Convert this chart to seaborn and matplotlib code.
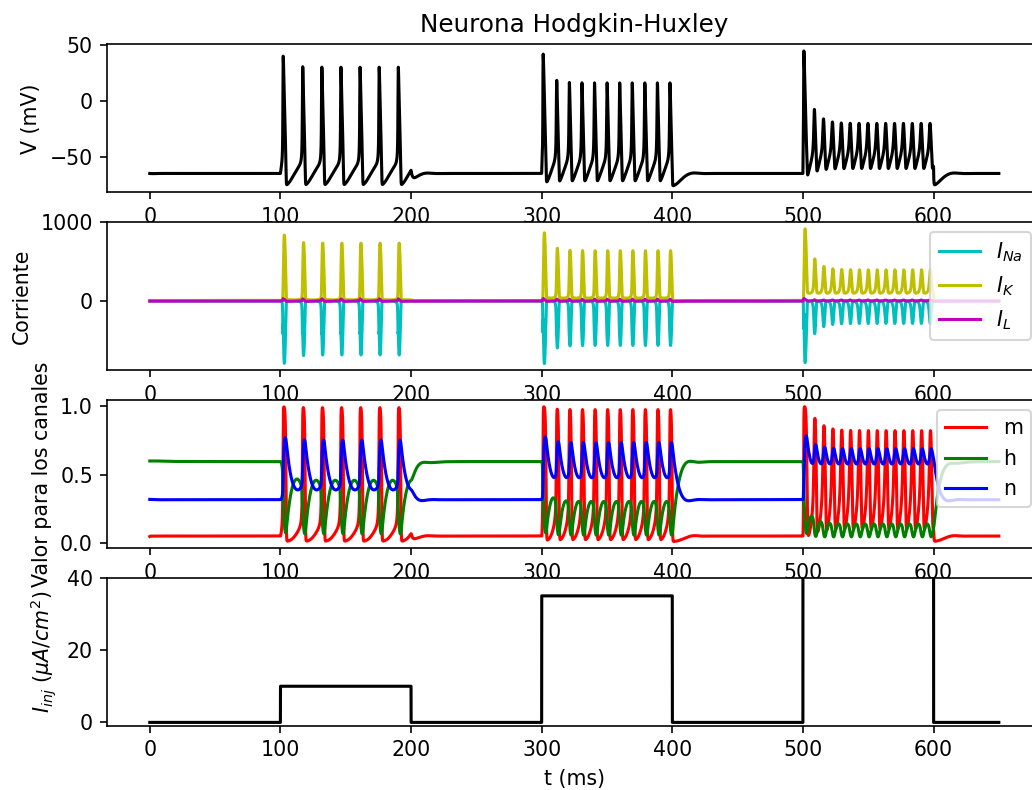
import numpy as np
import matplotlib
matplotlib.use('Agg')
import matplotlib.pyplot as plt
import seaborn as sns

# estimulo
stim_on = [100, 300, 500]
stim_off = [200, 400, 600]
stim_amp = [10, 35, 100]
t_end = 650.0
dt = 0.01

# parametros HH clasicos
C_m = 1.0
g_Na, g_K, g_L = 120.0, 36.0, 0.3
E_Na, E_K, E_L = 50.0, -77.0, -54.387
V0, m0, h0, n0 = -65.0, 0.05, 0.6, 0.32


def I_inj(t):
    tot = 0.0
    for a, b, amp in zip(stim_on, stim_off, stim_amp):
        if a <= t < b:
            tot += amp
    return tot


def alpha_m(V): return 0.1 * (V + 40.0) / (1.0 - np.exp(-(V + 40.0) / 10.0))
def beta_m(V): return 4.0 * np.exp(-(V + 65.0) / 18.0)
def alpha_h(V): return 0.07 * np.exp(-(V + 65.0) / 20.0)
def beta_h(V): return 1.0 / (1.0 + np.exp(-(V + 35.0) / 10.0))
def alpha_n(V): return 0.01 * (V + 55.0) / (1.0 - np.exp(-(V + 55.0) / 10.0))
def beta_n(V): return 0.125 * np.exp(-(V + 65.0) / 80.0)


def deriv(X, t):
    V, m, h, n = X
    ina = g_Na * m**3 * h * (V - E_Na)
    ik = g_K * n**4 * (V - E_K)
    il = g_L * (V - E_L)
    dV = (I_inj(t) - ina - ik - il) / C_m
    dm = alpha_m(V) * (1 - m) - beta_m(V) * m
    dh = alpha_h(V) * (1 - h) - beta_h(V) * h
    dn = alpha_n(V) * (1 - n) - beta_n(V) * n
    return np.array([dV, dm, dh, dn])


t = np.arange(0.0, t_end, dt)
X = np.zeros((len(t), 4))
X[0] = [V0, m0, h0, n0]
for i in range(len(t) - 1):
    x = X[i]
    ti = t[i]
    k1 = deriv(x, ti)
    k2 = deriv(x + 0.5 * dt * k1, ti + 0.5 * dt)
    k3 = deriv(x + 0.5 * dt * k2, ti + 0.5 * dt)
    k4 = deriv(x + dt * k3, ti + dt)
    X[i + 1] = x + dt / 6.0 * (k1 + 2 * k2 + 2 * k3 + k4)

V, m, h, n = X[:, 0], X[:, 1], X[:, 2], X[:, 3]
ina = g_Na * m**3 * h * (V - E_Na)
ik = g_K * n**4 * (V - E_K)
il = g_L * (V - E_L)
iinj = np.array([I_inj(ti) for ti in t])

DPI = 148
fig, axs = plt.subplots(4, 1, figsize=(1032 / DPI, 790 / DPI), dpi=DPI)
fig.subplots_adjust(left=0.104, right=1.009, top=0.944, bottom=0.081, hspace=0.2)

ax = axs[0]
sns.lineplot(x=t, y=V, color='k', ax=ax, estimator=None)
ax.set_title('Neurona Hodgkin-Huxley')
ax.set_ylabel('V (mV)')

ax = axs[1]
sns.lineplot(x=t, y=ina, color='c', label='$I_{Na}$', ax=ax, estimator=None)
sns.lineplot(x=t, y=ik, color='y', label='$I_{K}$', ax=ax, estimator=None)
sns.lineplot(x=t, y=il, color='m', label='$I_{L}$', ax=ax, estimator=None)
ax.set_ylabel('Corriente')
ax.legend(loc='upper right')

ax = axs[2]
sns.lineplot(x=t, y=m, color='r', label='m', ax=ax, estimator=None)
sns.lineplot(x=t, y=h, color='g', label='h', ax=ax, estimator=None)
sns.lineplot(x=t, y=n, color='b', label='n', ax=ax, estimator=None)
ax.set_ylabel('Valor para los canales')
ax.legend(loc='upper right')

ax = axs[3]
sns.lineplot(x=t, y=iinj, color='k', ax=ax, estimator=None)
ax.set_xlabel('t (ms)')
ax.set_ylabel('$I_{inj}$ ($\\mu{A}/cm^2$)')
ax.set_ylim(-1, 40)

fig.savefig('out.png', dpi=DPI)
